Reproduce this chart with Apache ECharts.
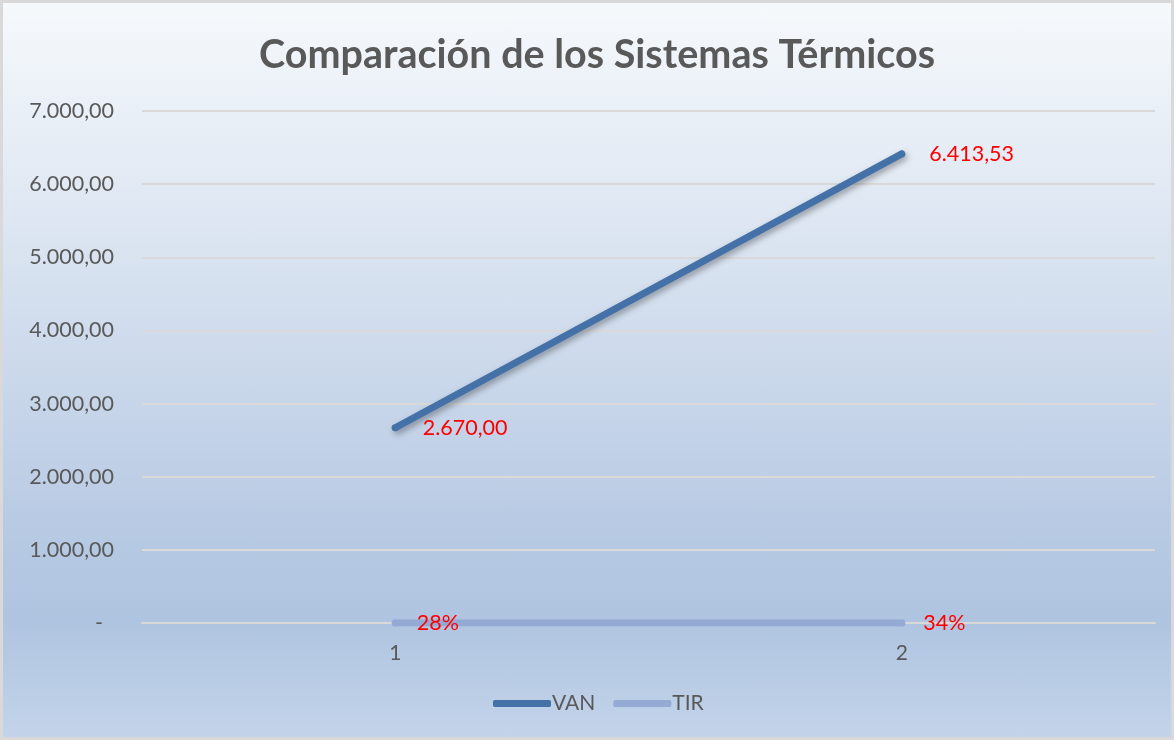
<!DOCTYPE html>
<html>
<head>
    <meta charset="utf-8">
    <title>Comparación de los Sistemas Térmicos</title>
    <script src="https://cdn.jsdelivr.net/npm/echarts@6/dist/echarts.min.js"></script>
    <style>
        html, body { margin: 0; padding: 0; background: #fff; }
        #main {
            width: 1168px; height: 734px;
            border: 3px solid #d9d9d9;
            background: linear-gradient(to bottom, #f6f9fc 0%, #dde6f2 30%, #b9cbe4 70%, #afc4e0 84%, #c3d4ea 100%);
        }
    </style>
</head>
<body>
    <div id="main"></div>
    <script type="text/javascript">
        var categories = ['1', '2'];
        var vanValues = [2670.00, 6413.53];
        var tirValues = [0.28, 0.34];
        var yTicks = [0, 1000, 2000, 3000, 4000, 5000, 6000, 7000];

        function fmtNum(v) {
            var parts = v.toFixed(2).split('.');
            parts[0] = parts[0].replace(/\B(?=(\d{3})+(?!\d))/g, '.');
            return parts[0] + ',' + parts[1];
        }

        var myChart = echarts.init(document.getElementById('main'));
        var font = 'Lato, "Open Sans", sans-serif';

        var option = {
            backgroundColor: 'transparent',
            title: {
                text: 'Comparación de los Sistemas Térmicos',
                left: 251,
                top: 27,
                textStyle: { fontFamily: font, fontSize: 39.5, fontWeight: 'bold', color: '#595959' }
            },
            legend: {
                bottom: 18,
                left: 485,
                itemWidth: 58,
                itemHeight: 7,
                itemGap: 18,
                icon: 'roundRect',
                textStyle: { fontFamily: font, fontSize: 21, color: '#595959', padding: [0, 0, 0, -4] },
                data: ['VAN', 'TIR']
            },
            grid: { left: 139, right: 16, top: 108, bottom: 114 },
            xAxis: {
                type: 'category',
                data: categories,
                boundaryGap: true,
                axisLine: { lineStyle: { color: '#d9d9d9', width: 2 } },
                axisTick: { show: false },
                axisLabel: { fontFamily: font, fontSize: 21, color: '#595959', margin: 20 }
            },
            yAxis: {
                type: 'value',
                min: yTicks[0],
                max: yTicks[yTicks.length - 1],
                interval: 1000,
                axisLine: { show: false },
                axisTick: { show: false },
                splitLine: { lineStyle: { color: '#d9d9d9', width: 2 } },
                axisLabel: {
                    fontFamily: font, fontSize: 21.5, color: '#595959', margin: 28,
                    formatter: function (v) { return v === 0 ? '-  ' : fmtNum(v); }
                }
            },
            series: [
                {
                    name: 'VAN',
                    type: 'line',
                    data: vanValues,
                    symbol: 'circle',
                    symbolSize: 7,
                    itemStyle: { color: '#4472a8' },
                    lineStyle: {
                        width: 7, cap: 'round', color: '#4472a8',
                        shadowColor: 'rgba(0,0,0,0.35)', shadowBlur: 6, shadowOffsetX: 2, shadowOffsetY: 3
                    },
                    label: {
                        show: true, position: 'right', distance: 24,
                        fontFamily: font, fontSize: 21.5, color: '#ff0000',
                        formatter: function (p) { return fmtNum(p.value); }
                    },
                    z: 3
                },
                {
                    name: 'TIR',
                    type: 'line',
                    data: tirValues,
                    symbol: 'circle',
                    symbolSize: 7,
                    itemStyle: { color: '#94aad4' },
                    lineStyle: { width: 7, cap: 'round', color: '#94aad4' },
                    label: {
                        show: true, position: 'right', distance: 18,
                        fontFamily: font, fontSize: 21.5, color: '#ff0000',
                        formatter: function (p) { return Math.round(p.value * 100) + '%'; }
                    },
                    z: 2
                }
            ]
        };

        myChart.setOption(option);
    </script>
</body>
</html>
